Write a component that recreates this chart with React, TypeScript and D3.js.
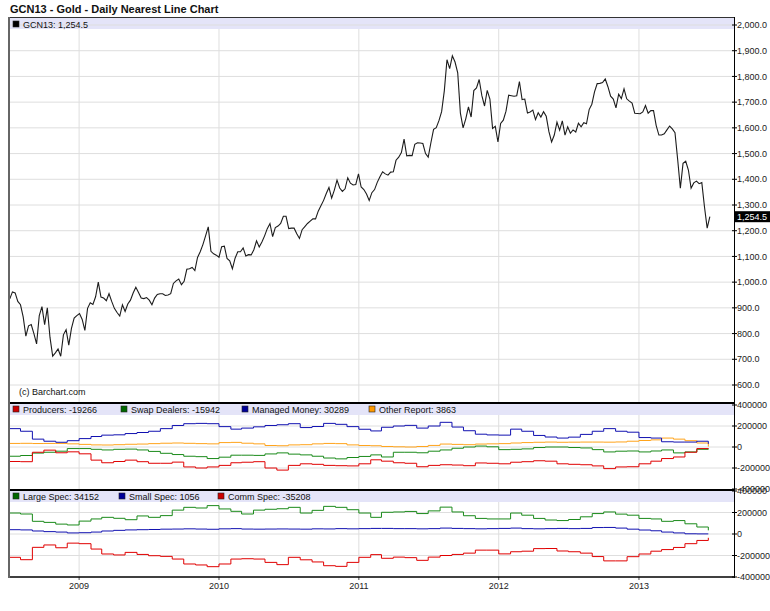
import React from 'react';
import * as d3 from 'd3';

// weekly closes, GCN13 daily nearest
const goldStart = new Date(2008, 6, 4);
const gold2008 = [935, 962, 958, 925, 912, 865, 790, 830, 835, 800, 760, 870, 905, 835, 900, 785, 712, 725, 740, 712, 795, 815, 755, 820, 860, 870];
const gold2009 = [878, 855, 812, 898, 920, 913, 943, 1000, 942, 938, 928, 955, 925, 898, 882, 868, 912, 886, 915, 930, 958, 980, 960, 938, 936, 940, 930, 912, 938, 952, 955, 955, 948, 950, 955, 995, 1005, 1012, 990, 1003, 1050, 1052, 1057, 1045, 1096, 1118, 1146, 1180, 1215, 1120, 1110, 1105];
const gold2010 = [1097, 1138, 1140, 1092, 1083, 1052, 1093, 1118, 1118, 1133, 1102, 1107, 1106, 1126, 1161, 1137, 1156, 1180, 1208, 1228, 1177, 1212, 1218, 1228, 1256, 1256, 1208, 1210, 1210, 1188, 1170, 1204, 1216, 1228, 1237, 1246, 1246, 1276, 1297, 1318, 1345, 1368, 1327, 1358, 1397, 1366, 1353, 1363, 1406, 1385, 1378, 1380, 1421];
const gold2011 = [1370, 1360, 1343, 1318, 1348, 1360, 1388, 1410, 1429, 1421, 1416, 1428, 1429, 1474, 1486, 1504, 1556, 1491, 1493, 1492, 1536, 1542, 1541, 1539, 1500, 1486, 1542, 1594, 1601, 1628, 1663, 1744, 1865, 1830, 1880, 1856, 1814, 1657, 1600, 1635, 1682, 1642, 1745, 1755, 1788, 1725, 1685, 1746, 1712, 1598, 1606, 1545];
const gold2012 = [1617, 1630, 1665, 1727, 1725, 1723, 1725, 1780, 1710, 1712, 1658, 1662, 1669, 1632, 1659, 1642, 1663, 1645, 1585, 1545, 1572, 1622, 1591, 1627, 1572, 1604, 1579, 1592, 1584, 1618, 1604, 1620, 1616, 1671, 1692, 1740, 1772, 1773, 1776, 1790, 1760, 1723, 1712, 1678, 1731, 1714, 1752, 1713, 1704, 1696, 1657, 1656];
const gold2013 = [1655, 1662, 1687, 1657, 1667, 1667, 1609, 1572, 1572, 1577, 1592, 1607, 1596, 1581, 1477, 1365, 1462, 1470, 1436, 1365, 1386, 1393, 1383, 1387, 1292, 1210, 1254.5];
const gold = [...gold2008, ...gold2009, ...gold2010, ...gold2011, ...gold2012, ...gold2013];

// COT positions, monthly samples, thousands of contracts
const cotStart = new Date(2008, 6, 1);
const producers = [-138, -140, -50, -30, -55, -46, -65, -125, -150, -138, -125, -140, -155, -155, -144, -190, -200, -190, -175, -150, -145, -140, -200, -220, -175, -160, -165, -175, -178, -180, -160, -122, -135, -150, -155, -188, -175, -169, -172, -178, -152, -155, -160, -145, -140, -131, -135, -160, -165, -169, -180, -206, -190, -188, -160, -135, -110, -95, -50, -15, -19.266];
const swapDealers = [-88, -81, -58, -50, -40, -15, -15, -22, -28, -22, -20, -28, -42, -60, -72, -88, -92, -110, -97, -78, -78, -80, -66, -56, -68, -75, -88, -105, -113, -100, -90, -75, -95, -50, -50, -55, -40, -28, -12, 0, 9, 2, -25, -22, -18, -5, 0, 0, -5, -9, -25, -47, -40, -38, -47, -38, -28, -56, -47, -22, -15.942];
const managedMoney = [175, 150, 75, 55, 45, 60, 80, 100, 113, 116, 128, 138, 150, 175, 205, 222, 225, 222, 194, 170, 180, 192, 205, 212, 222, 185, 195, 225, 216, 194, 169, 153, 188, 200, 206, 180, 200, 235, 190, 155, 122, 115, 113, 170, 150, 110, 95, 85, 94, 120, 150, 175, 150, 141, 90, 85, 50, 47, 47, 55, 30.289];
const otherReport = [34, 35, 33, 34, 34, 30, 25, 20, 19, 22, 26, 28, 32, 36, 38, 35, 32, 30, 42, 44, 36, 30, 14, 12, 20, 22, 30, 34, 32, 20, 14, 12, 5, 2, 0, 5, 15, 28, 25, 22, 28, 30, 32, 38, 42, 45, 47, 45, 46, 47, 47, 46, 48, 55, 62, 68, 85, 75, 60, 38, 3.863];
const largeSpec = [195, 186, 118, 108, 92, 84, 120, 140, 155, 146, 133, 168, 155, 171, 222, 248, 242, 264, 233, 211, 186, 222, 230, 235, 248, 195, 220, 257, 248, 226, 195, 155, 202, 205, 210, 190, 215, 250, 205, 170, 145, 140, 140, 195, 175, 145, 130, 125, 135, 160, 190, 205, 185, 175, 145, 140, 118, 125, 95, 65, 34.152];
const smallSpec = [40, 38, 28, 22, 18, 10, 12, 18, 28, 34, 38, 40, 42, 45, 46, 48, 46, 44, 48, 50, 46, 45, 46, 47, 46, 45, 48, 47, 50, 48, 50, 52, 52, 50, 50, 48, 50, 55, 52, 50, 48, 50, 52, 55, 50, 48, 50, 52, 50, 52, 60, 61, 55, 45, 37, 30, 18, 10, 2, 1, 1.056];
const commSpec = [-217, -239, -124, -102, -128, -85, -90, -140, -186, -195, -171, -190, -202, -208, -233, -279, -288, -304, -279, -233, -230, -233, -264, -285, -217, -240, -260, -295, -301, -264, -217, -192, -226, -215, -220, -245, -215, -200, -190, -178, -150, -150, -185, -165, -160, -136, -135, -158, -165, -178, -210, -250, -250, -211, -186, -160, -145, -125, -90, -60, -35.208];

const yearTicks = [2009, 2010, 2011, 2012, 2013];
const priceTicks = [600, 700, 800, 900, 1000, 1100, 1200, 1300, 1400, 1500, 1600, 1700, 1800, 1900, 2000];
const cotTicks = [400000, 200000, 0, -200000, -400000];
const cotGrid = [200000, 0, -200000];

const W = 770;
const H = 611;
const L = 9;
const R = 734;
const FONT = '"Liberation Sans", Arial, sans-serif';
const BAND = '#e4e4f8';

const x = d3.scaleTime().domain([new Date(2008, 6, 2), new Date(2013, 8, 6)]).range([L, R]);
const yPrice = d3.scaleLinear().domain([600, 2000]).range([385, 25]);
const yCot1 = d3.scaleLinear().domain([-400000, 400000]).range([489, 405]);
const yCot2 = d3.scaleLinear().domain([-400000, 400000]).range([577, 491]);

const goldLine = d3
  .line<number>()
  .x((d, i) => x(d3.timeDay.offset(goldStart, 7 * i)))
  .y((d) => yPrice(d));

const cotLine = (y: d3.ScaleLinear<number, number>) =>
  d3
    .line<number>()
    .x((d, i) => x(d3.timeMonth.offset(cotStart, i)))
    .y((d) => y(d * 1000))
    .curve(d3.curveStepAfter);

const fmtPrice = d3.format(',.1f');
const last = (a: number[]) => a[a.length - 1];
const fmtCot = (a: number[]) => String(Math.round(last(a) * 1000));

type Entry = { label: string; fill: string; x: number };

const Legend = ({ y, items }: { y: number; items: Entry[] }) => (
  <g>
    {items.map((it) => (
      <g key={it.label}>
        <rect x={it.x} y={y - 7} width={6} height={6} fill={it.fill} stroke="#222" strokeWidth={0.6} />
        <text x={it.x + 10} y={y} fontSize={9} fill="#111">
          {it.label}
        </text>
      </g>
    ))}
  </g>
);

const RightAxis = ({ y, ticks, fmt }: { y: (v: number) => number; ticks: number[]; fmt: (v: number) => string }) => (
  <g>
    {ticks.map((t) => (
      <g key={t}>
        <line x1={R - 2} x2={R + 3} y1={y(t)} y2={y(t)} stroke="#000" />
        <text x={R + 3} y={y(t)} dy="0.35em" fontSize={9} fill="#222">
          {fmt(t)}
        </text>
      </g>
    ))}
  </g>
);

const App = () => {
  const lastGold = last(gold);
  const yl = yPrice(lastGold);
  return (
    <svg
      width={W}
      height={H}
      style={{ position: 'absolute', left: 0, top: 0, background: '#fff' }}
      fontFamily={FONT}
    >
      <rect x={0} y={0} width={W} height={H} fill="#fff" />
      <text x={10} y={13} fontSize={11} fontWeight="bold" fill="#111">
        GCN13 - Gold - Daily Nearest Line Chart
      </text>

      {/* legend bands */}
      <rect x={L} y={18} width={R - L} height={11} fill={BAND} />
      <rect x={L} y={404} width={R - L} height={11} fill={BAND} />
      <rect x={L} y={491} width={R - L} height={11} fill={BAND} />

      {/* grid */}
      {priceTicks.map((t) => (
        <line key={t} x1={L} x2={R} y1={yPrice(t)} y2={yPrice(t)} stroke="#dedede" />
      ))}
      {cotGrid.map((t) => (
        <g key={t}>
          <line x1={L} x2={R} y1={yCot1(t)} y2={yCot1(t)} stroke="#dedede" />
          <line x1={L} x2={R} y1={yCot2(t)} y2={yCot2(t)} stroke="#dedede" />
        </g>
      ))}
      {yearTicks.map((yr) => {
        const xx = x(new Date(yr, 0, 1));
        return (
          <g key={yr}>
            <line x1={xx} x2={xx} y1={29} y2={402} stroke="#dedede" />
            <line x1={xx} x2={xx} y1={415} y2={489} stroke="#dedede" />
            <line x1={xx} x2={xx} y1={502} y2={577} stroke="#dedede" />
            <line x1={xx} x2={xx} y1={577} y2={580} stroke="#444" />
            <text x={xx} y={589} fontSize={9} textAnchor="middle" fill="#222">
              {yr}
            </text>
          </g>
        );
      })}

      <Legend y={28} items={[{ label: `GCN13: ${fmtPrice(lastGold)}`, fill: '#000', x: 13 }]} />
      <text x={19} y={395} fontSize={9} fill="#111">
        (c) Barchart.com
      </text>

      {/* price line */}
      <path d={goldLine(gold) || ''} fill="none" stroke="#1c1c1c" strokeWidth={1.1} />

      {/* COT by report */}
      <path d={cotLine(yCot1)(otherReport) || ''} fill="none" stroke="#ffa31a" strokeWidth={1} />
      <path d={cotLine(yCot1)(swapDealers) || ''} fill="none" stroke="#1a8a1a" strokeWidth={1} />
      <path d={cotLine(yCot1)(producers) || ''} fill="none" stroke="#e00000" strokeWidth={1} />
      <path d={cotLine(yCot1)(managedMoney) || ''} fill="none" stroke="#1010b0" strokeWidth={1} />
      <Legend
        y={413}
        items={[
          { label: `Producers: ${fmtCot(producers)}`, fill: '#cc0000', x: 13 },
          { label: `Swap Dealers: ${fmtCot(swapDealers)}`, fill: '#006600', x: 121 },
          { label: `Managed Money: ${fmtCot(managedMoney)}`, fill: '#000099', x: 242 },
          { label: `Other Report: ${fmtCot(otherReport)}`, fill: '#ff9900', x: 369 },
        ]}
      />

      {/* COT legacy */}
      <path d={cotLine(yCot2)(smallSpec) || ''} fill="none" stroke="#1010b0" strokeWidth={1} />
      <path d={cotLine(yCot2)(largeSpec) || ''} fill="none" stroke="#1a8a1a" strokeWidth={1} />
      <path d={cotLine(yCot2)(commSpec) || ''} fill="none" stroke="#e00000" strokeWidth={1} />
      <Legend
        y={500}
        items={[
          { label: `Large Spec: ${fmtCot(largeSpec)}`, fill: '#006600', x: 13 },
          { label: `Small Spec: ${fmtCot(smallSpec)}`, fill: '#000099', x: 119 },
          { label: `Comm Spec: ${fmtCot(commSpec)}`, fill: '#cc0000', x: 218 },
        ]}
      />

      {/* frames */}
      <line x1={L} x2={R} y1={17.5} y2={17.5} stroke="#333" />
      <line x1={L} x2={R} y1={403} y2={403} stroke="#000" strokeWidth={2} />
      <line x1={L} x2={R} y1={490} y2={490} stroke="#000" strokeWidth={2} />
      <line x1={L} x2={R} y1={577} y2={577} stroke="#000" strokeWidth={1.5} />
      <line x1={L} x2={L} y1={17} y2={578} stroke="#666" strokeWidth={2} />
      <line x1={R + 0.5} x2={R + 0.5} y1={17} y2={578} stroke="#000" />

      <RightAxis y={yPrice} ticks={priceTicks} fmt={fmtPrice} />
      <RightAxis y={yCot1} ticks={cotTicks} fmt={(v) => String(v)} />
      <RightAxis y={yCot2} ticks={cotTicks} fmt={(v) => String(v)} />

      {/* last price marker */}
      <rect x={R + 1} y={yl - 5.5} width={W - R} height={11} fill="#000" />
      <text x={R + 3} y={yl} dy="0.35em" fontSize={9} fill="#fff">
        {fmtPrice(lastGold)}
      </text>
    </svg>
  );
};

export default App;
